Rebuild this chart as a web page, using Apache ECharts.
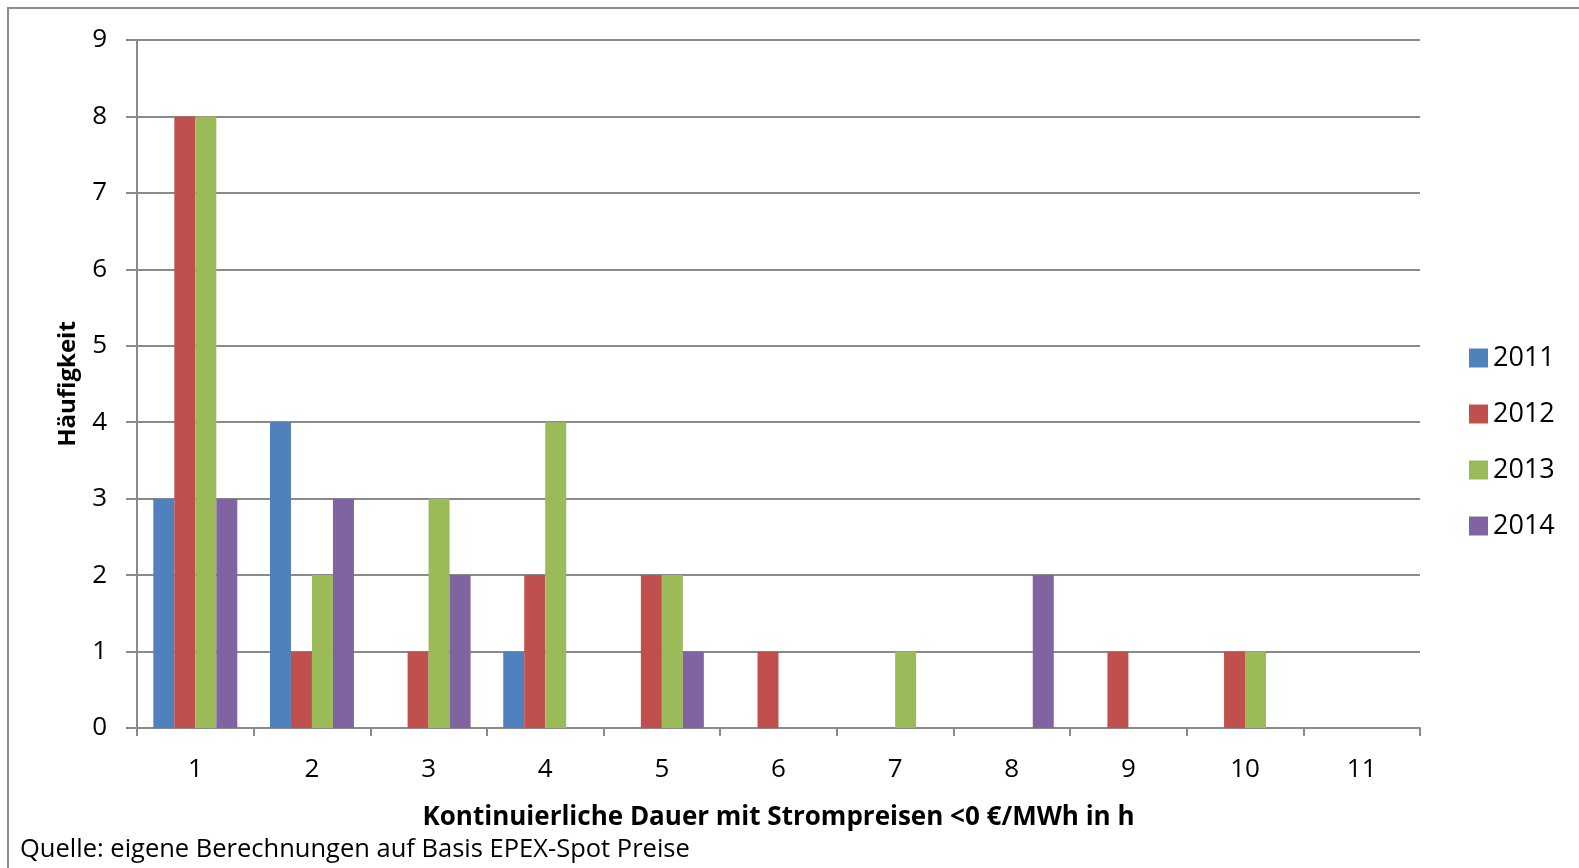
<!DOCTYPE html>
<html>
<head>
<meta charset="utf-8">
<script src="https://cdn.jsdelivr.net/npm/echarts@6/dist/echarts.min.js"></script>
<style>
  html, body { margin: 0; padding: 0; background: #fff; }
  #chart { width: 1579px; height: 868px; }
</style>
</head>
<body>
<div id="chart"></div>
<script>
// Dauer in Stunden (Kategorien)
const hours = ["1", "2", "3", "4", "5", "6", "7", "8", "9", "10", "11"];
const years = ["2011", "2012", "2013", "2014"];

// Häufigkeit je Jahr
const y2011 = [3, 4, 0, 1, 0, 0, 0, 0, 0, 0, 0];
const y2012 = [8, 1, 1, 2, 2, 1, 0, 0, 1, 1, 0];
const y2013 = [8, 2, 3, 4, 2, 0, 1, 0, 0, 1, 0];
const y2014 = [3, 3, 2, 0, 1, 0, 0, 2, 0, 0, 0];

const colors = ["#4F81BD", "#C0504D", "#9BBB59", "#8064A2"];
const values = [y2011, y2012, y2013, y2014];

const FONT = "'Open Sans', 'Noto Sans', sans-serif";
const GRID_COLOR = "#8a8a8a";

const chart = echarts.init(document.getElementById("chart"));

chart.setOption({
    backgroundColor: "#fff",
    animation: false,
    textStyle: { fontFamily: FONT, color: "#000" },
    graphic: [
        {
            // Rahmen (rechts/unten außerhalb des Bildes)
            type: "rect",
            shape: { x: 8, y: 8, width: 1700, height: 1000 },
            style: { fill: "none", stroke: "#8c8c8c", lineWidth: 2 },
            silent: true,
        },
        {
            type: "text",
            left: 20,
            top: 837,
            style: {
                text: "Quelle: eigene Berechnungen auf Basis EPEX-Spot Preise",
                fontFamily: FONT,
                fontSize: 25.5,
                fill: "#000",
            },
        },
    ],
    legend: {
        orient: "vertical",
        left: 1469,
        top: 340,
        padding: 0,
        itemWidth: 19,
        itemHeight: 19,
        itemGap: 20,
        itemTextGap: 6,
        itemStyle: { borderWidth: 0 },
        textStyle: { fontFamily: FONT, fontSize: 27, color: "#000", lineHeight: 36 },
        icon: "rect",
        data: years,
    },
    grid: { left: 137, right: 159, top: 40, bottom: 140 },
    xAxis: {
        type: "category",
        data: hours,
        name: "Kontinuierliche Dauer mit Strompreisen <0 €/MWh in h",
        nameLocation: "middle",
        nameGap: 77,
        nameTextStyle: { fontFamily: FONT, fontSize: 26, fontWeight: "bold", color: "#000" },
        axisLine: { lineStyle: { color: GRID_COLOR, width: 2 } },
        axisTick: { show: true, length: 8, lineStyle: { color: GRID_COLOR, width: 2 } },
        axisLabel: { fontFamily: FONT, fontSize: 26, color: "#000", margin: 29 },
    },
    yAxis: {
        type: "value",
        min: 0,
        max: 9,
        interval: 1,
        name: "Häufigkeit",
        nameLocation: "middle",
        nameGap: 57,
        nameTextStyle: { fontFamily: FONT, fontSize: 24, fontWeight: "bold", color: "#000" },
        axisLine: { show: true, lineStyle: { color: GRID_COLOR, width: 2 } },
        axisTick: { show: true, length: 11, lineStyle: { color: GRID_COLOR, width: 2 } },
        axisLabel: { fontFamily: FONT, fontSize: 26, color: "#000", margin: 30 },
        splitLine: { lineStyle: { color: GRID_COLOR, width: 2 } },
    },
    series: years.map((name, i) => ({
        name,
        type: "bar",
        data: values[i],
        barGap: "0%",
        barCategoryGap: "28%",
        itemStyle: { color: colors[i] },
    })),
});
</script>
</body>
</html>
